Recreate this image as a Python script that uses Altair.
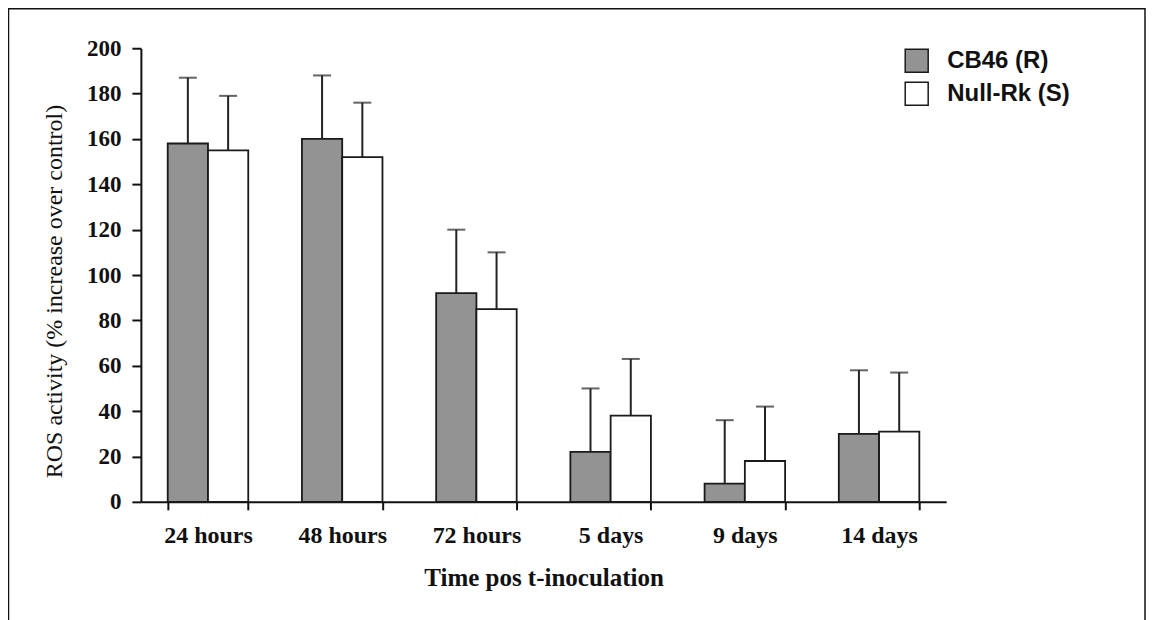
import altair as alt
import pandas as pd

times = ["24 hours", "48 hours", "72 hours", "5 days", "9 days", "14 days"]
lines = ["CB46 (R)", "Null-Rk (S)"]
cb46 = [158, 160, 92, 22, 8, 30]
cb46_top = [187, 188, 120, 50, 36, 58]
nullrk = [155, 152, 85, 38, 18, 31]
nullrk_top = [179, 176, 110, 63, 42, 57]

rows = []
for i, t in enumerate(times):
    rows.append({"time": t, "line": lines[0], "value": cb46[i], "top": cb46_top[i]})
    rows.append({"time": t, "line": lines[1], "value": nullrk[i], "top": nullrk_top[i]})
df = pd.DataFrame(rows)

serif = "Liberation Serif"
sans = "Liberation Sans"

x = alt.X(
    "time:N",
    sort=times,
    scale=alt.Scale(paddingInner=0.4, paddingOuter=0.2),
    axis=alt.Axis(
        title="Time pos t-inoculation",
        labelAngle=0,
        tickBand="extent",
        labelFont=serif,
        labelFontWeight="bold",
        labelFontSize=24,
        labelColor="#111",
        labelPadding=14,
        tickSize=8,
        tickWidth=2,
        tickColor="#111",
        domainColor="#111",
        domainWidth=2,
        titleFont=serif,
        titleFontWeight="bold",
        titleFontSize=25,
        titleColor="#111",
        titlePadding=18,
    ),
)
xo = alt.XOffset("line:N", sort=lines, scale=alt.Scale(paddingInner=0, paddingOuter=0))
y = alt.Y(
    "value:Q",
    scale=alt.Scale(domain=[0, 200], nice=False),
    axis=alt.Axis(
        title="ROS activity (% increase over control)",
        values=list(range(0, 201, 20)),
        grid=False,
        labelFont=serif,
        labelFontWeight="bold",
        labelFontSize=23,
        labelColor="#111",
        labelPadding=11,
        tickSize=9,
        tickWidth=2,
        tickColor="#111",
        domainColor="#111",
        domainWidth=2,
        titleFont=serif,
        titleFontWeight="normal",
        titleFontSize=24,
        titleColor="#111",
        titleBaseline="middle",
        titleX=-86,
        titleY=243,
    ),
)

bars = alt.Chart(df).mark_bar(stroke="#1a1a1a", strokeWidth=1.8).encode(
    x=x,
    xOffset=xo,
    y=y,
    color=alt.Color(
        "line:N",
        scale=alt.Scale(domain=lines, range=["#939393", "#ffffff"]),
        legend=alt.Legend(
            title=None,
            orient="none",
            legendX=764,
            legendY=0,
            symbolType="square",
            symbolSize=529,
            symbolStrokeColor="#1a1a1a",
            symbolStrokeWidth=1.5,
            labelFont=sans,
            labelFontWeight="bold",
            labelFontSize=24,
            labelColor="#111",
            labelOffset=18,
            rowPadding=4,
        ),
    ),
)

err = alt.Chart(df).mark_rule(color="#222", strokeWidth=2).encode(
    x=x, xOffset=xo, y="value:Q", y2="top:Q"
)
cap = alt.Chart(df).mark_tick(color="#222", thickness=2, size=18).encode(
    x=x, xOffset=xo, y="top:Q"
)

frame = alt.Chart(pd.DataFrame({"f": [0]})).mark_rect(
    fillOpacity=0, stroke="#111", strokeWidth=1.5
).encode(
    x=alt.value(-132.5), x2=alt.value(1005), y=alt.value(-39.5), y2=alt.value(700)
)

chart = alt.layer(bars, err, cap, frame).properties(
    width=806,
    height=454,
    autosize=alt.AutoSizeParams(type="none"),
    padding={"left": 133, "top": 40, "right": 200, "bottom": 118},
    background="white",
).configure_view(stroke=None)

chart.save("out.html", embed_options={"renderer": "svg", "actions": False})
